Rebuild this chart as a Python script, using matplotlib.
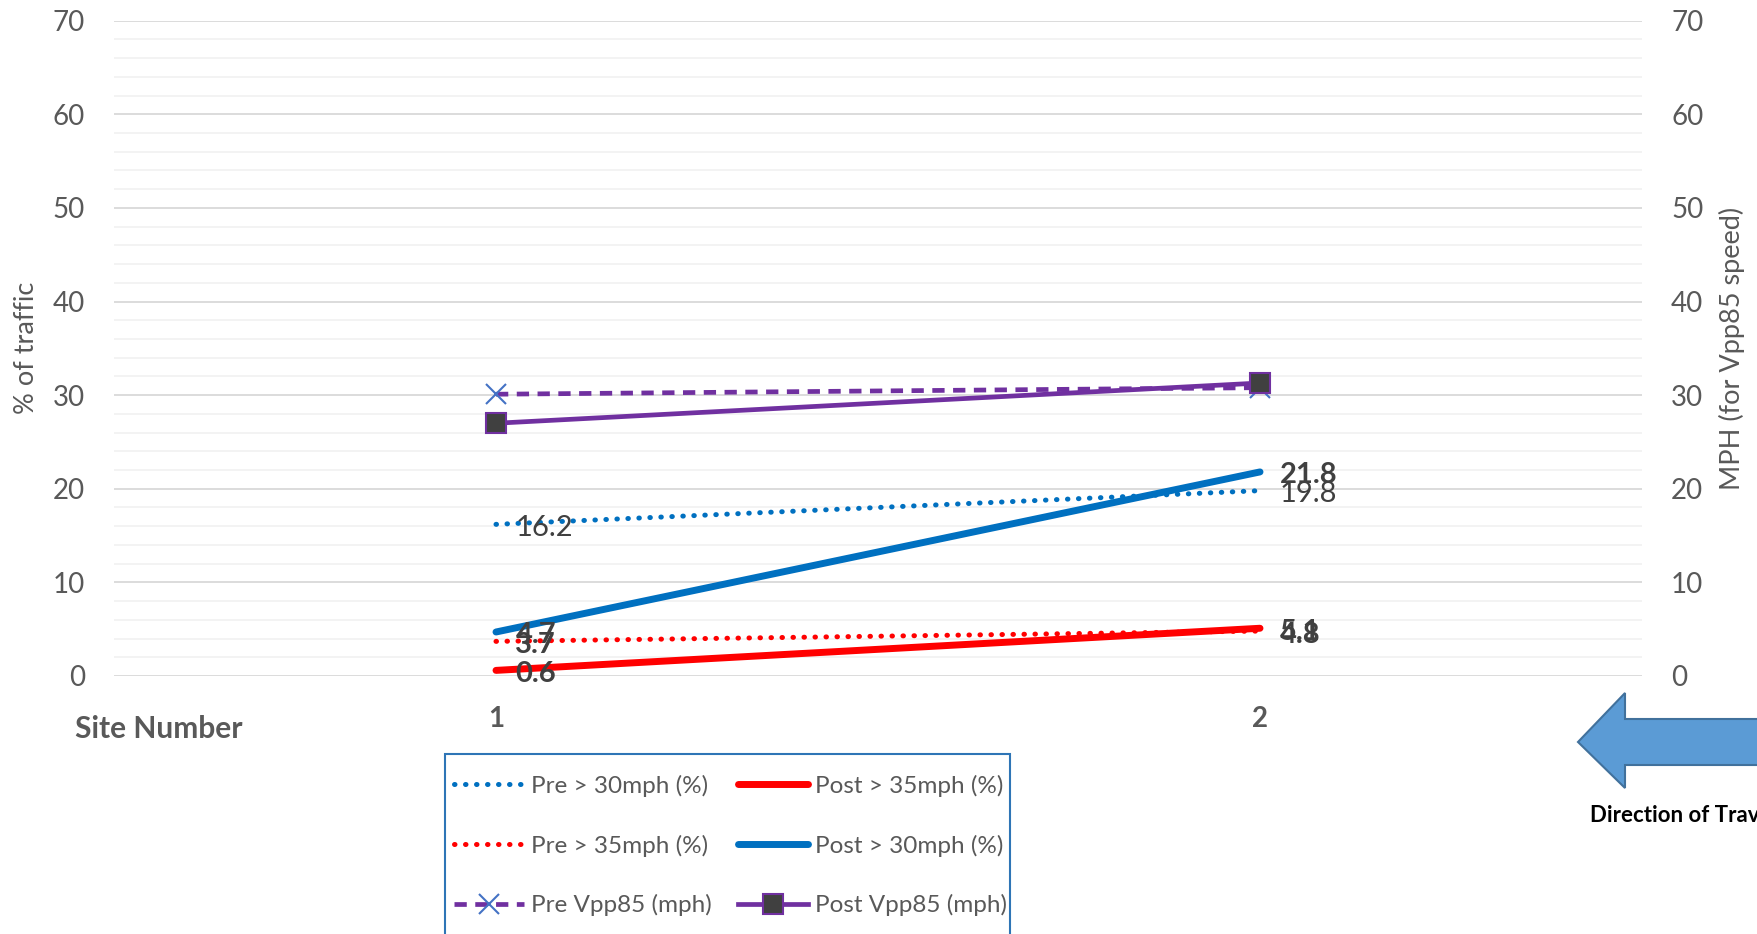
import matplotlib
matplotlib.use("Agg")
import matplotlib.pyplot as plt
from matplotlib.lines import Line2D
from matplotlib.patches import Polygon, Rectangle
from matplotlib.ticker import MultipleLocator

# Survey results per site
sites = ["1", "2"]
pre_over_30 = [16.2, 19.8]
pre_over_35 = [3.7, 4.8]
post_over_30 = [4.7, 21.8]
post_over_35 = [0.6, 5.1]
pre_vpp85 = [30.1, 30.8]
post_vpp85 = [27.0, 31.3]
y_ticks = [0, 10, 20, 30, 40, 50, 60, 70]

plt.rcParams['font.family'] = ['Lato', 'DejaVu Sans']

W, H = 1758, 934
fig = plt.figure(figsize=(W / 100, H / 100), dpi=100)
fig.patch.set_facecolor("white")

L, R, T, B = 114, 1642, 20.7, 676
ax = fig.add_axes([L / W, 1 - B / H, (R - L) / W, (B - T) / H])
ax2 = ax.twinx()

xs = list(range(1, len(sites) + 1))

BLUE = "#0070C0"
RED = "#FF0000"
PURPLE = "#7030A0"
XBLUE = "#4472C4"
TICK = "#595959"
LABEL = "#404040"

dot = dict(linestyle=(0, (0.1, 2.1)), dash_capstyle="round", lw=3.6)
dash = (0, (2.6, 1.8))

ax.plot(xs, pre_over_30, color=BLUE, **dot)
ax.plot(xs, pre_over_35, color=RED, **dot)
ax.plot(xs, post_over_35, color=RED, lw=5, solid_capstyle="round")
ax.plot(xs, post_over_30, color=BLUE, lw=5, solid_capstyle="round")

ax2.plot(xs, pre_vpp85, color=PURPLE, lw=3.4, linestyle=dash,
         marker="x", markersize=15, markeredgewidth=1.5,
         markeredgecolor=XBLUE)
ax2.plot(xs, post_vpp85, color=PURPLE, lw=3.4, marker="s", markersize=15,
         markerfacecolor="#404040", markeredgecolor=PURPLE,
         markeredgewidth=1.5)

for a in (ax, ax2):
    a.set_xlim(0.5, len(sites) + 0.5)
    a.set_ylim(0, 70)
    a.set_yticks(y_ticks)
    for s in a.spines.values():
        s.set_visible(False)

ax.yaxis.set_minor_locator(MultipleLocator(2))
ax.grid(which="major", axis="y", color="#D9D9D9", lw=1.3)
ax.grid(which="minor", axis="y", color="#F2F2F2", lw=1.3)
ax.set_axisbelow(True)

ax.tick_params(axis="y", which="both", length=0, pad=21, labelsize=20,
               labelcolor=TICK)
ax2.tick_params(axis="y", which="both", length=0, pad=21, labelsize=20,
                labelcolor=TICK)
ax.set_xticks(xs)
ax.set_xticklabels(sites, fontweight="bold")
ax.tick_params(axis="x", length=0, pad=21.5, labelsize=20, labelcolor=TICK)
ax2.tick_params(axis="x", length=0)

# Value labels to the right of each point
def label_series(vals, bold):
    for xi, v in zip(xs, vals):
        ax.annotate(f"{v:.1f}", (xi, v), xytext=(14, -2.5),
                    textcoords="offset points", ha="left", va="center",
                    fontsize=21, color=LABEL,
                    fontweight="bold" if bold else "normal")

label_series(pre_over_30, False)
label_series(pre_over_35, True)
label_series(post_over_35, True)
label_series(post_over_30, True)

fig.text(75 / W, 1 - 729 / H, "Site Number", ha="left", va="center",
         fontsize=21.5, fontweight="bold", color=TICK)
fig.text(27 / W, 1 - 348 / H, "% of traffic", rotation=90, ha="center",
         va="center", fontsize=19.5, color=TICK)
fig.text(1732 / W, 1 - 348 / H, "MPH (for Vpp85 speed)", rotation=90,
         ha="center", va="center", fontsize=19.5, color=TICK)

handles = [
    Line2D([], [], color=BLUE, **dot),
    Line2D([], [], color=RED, **dot),
    Line2D([], [], color=PURPLE, lw=3.4, linestyle=dash,
           marker="x", markersize=15, markeredgewidth=1.5,
           markeredgecolor=XBLUE),
    Line2D([], [], color=RED, lw=5, solid_capstyle="round"),
    Line2D([], [], color=BLUE, lw=5, solid_capstyle="round"),
    Line2D([], [], color=PURPLE, lw=3.4, marker="s", markersize=15,
           markerfacecolor="#404040", markeredgecolor=PURPLE,
           markeredgewidth=1.5),
]
labels = ["Pre > 30mph (%)", "Pre > 35mph (%)", "Pre Vpp85 (mph)",
          "Post > 35mph (%)", "Post > 30mph (%)", "Post Vpp85 (mph)"]

# Legend frame (runs past the lower edge of the figure)
frame = Rectangle((445 / W, 1 - 960 / H), (1010 - 445) / W, (960 - 754) / H,
                  transform=fig.transFigure, facecolor="white",
                  edgecolor="#2E75B6", lw=1.5, zorder=1)
fig.add_artist(frame)

leg = fig.legend(handles, labels, ncol=2, loc="upper left",
                 bbox_to_anchor=(454 / W, 1 - 774.7 / H), borderaxespad=0,
                 fontsize=17.5, frameon=False, labelcolor=TICK,
                 handlelength=2.86, handletextpad=0.3, columnspacing=1.1,
                 labelspacing=1.55, borderpad=0)
leg.set_zorder(2)

# Direction arrow
pts = [(1578, 742), (1625, 693), (1625, 719), (1775, 719), (1775, 765),
       (1625, 765), (1625, 788)]
arrow = Polygon([(px / W, 1 - py / H) for px, py in pts], closed=True,
                transform=fig.transFigure, facecolor="#5B9BD5",
                edgecolor="#41719C", lw=1.5)
fig.add_artist(arrow)
fig.text(1590 / W, 1 - 816 / H, "Direction of Travel", ha="left",
         va="center", fontsize=16, fontweight="bold", color="black")

fig.savefig("out.png", dpi=100)
